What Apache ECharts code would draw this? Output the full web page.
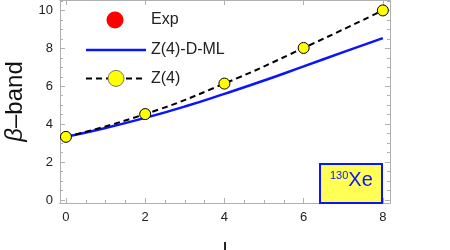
<!DOCTYPE html>
<html><head><meta charset="utf-8">
<script src="https://cdn.jsdelivr.net/npm/echarts@6/dist/echarts.min.js"></script>
<style>html,body{margin:0;padding:0;background:#fff}#c{width:450px;height:250px}</style>
</head><body><div id="c"></div>
<script>
var xValues = [0, 2, 4, 6, 8];
var z4Values = [3.33, 4.53, 6.14, 8.02, 10.0];
var mlX = [0, 1, 2, 3, 4, 5, 6, 7, 8];
var mlValues = [3.33, 3.8, 4.33, 4.93, 5.6, 6.3, 7.05, 7.8, 8.54];
var expValues = [];
var xTicks = [0, 2, 4, 6, 8];
var yTicks = [0, 2, 4, 6, 8, 10];
var xMinor = [0.5, 1, 1.5, 2.5, 3, 3.5, 4.5, 5, 5.5, 6.5, 7, 7.5];
var yMinor = [0.5, 1, 1.5, 2.5, 3, 3.5, 4.5, 5, 5.5, 6.5, 7, 7.5, 8.5, 9, 9.5, 10.5];

var XMIN = -0.15, XMAX = 8.18, YMIN = -0.16, YMAX = 10.55;
var frame = '#b0b0b0';
var font = 'Liberation Sans, Arial, sans-serif';
var blue = '#0a14ff';

function axisBase(extra) {
  var a = {
    type: 'value',
    axisLine: { show: true, onZero: false, lineStyle: { color: frame, width: 1 } },
    splitLine: { show: false },
    axisTick: { show: true, inside: true, length: 5, lineStyle: { color: frame } },
    axisLabel: { show: false }
  };
  for (var k in extra) a[k] = extra[k];
  return a;
}

var chart = echarts.init(document.getElementById('c'));
chart.setOption({
  animation: false,
  grid: { left: 60, right: 60, top: 0, bottom: 47, containLabel: false, outerBoundsMode: 'none' },
  legend: {
    orient: 'vertical', left: 85, top: 10, padding: 0, itemWidth: 60, itemHeight: 20, itemGap: 10,
    textStyle: { fontFamily: font, fontSize: 16, color: '#222' },
    data: [
      { name: 'Exp', icon: 'path://M0,0 L0.01,0 L0,0.01 Z M60,20 L59.99,20 L60,19.99 Z M29,1.5 A8.5,8.5 0 1,1 29,18.5 A8.5,8.5 0 1,1 29,1.5 Z' },
      { name: 'Z(4)-D-ML', icon: 'path://M0,0 L0.01,0 L0,0.01 Z M0,8.7 L60,8.7 L60,11.3 L0,11.3 Z M0,20 L0.01,20 L0,19.99 Z' },
      { name: 'Z(4)', itemStyle: { borderWidth: 0.8, borderColor: '#555' } }
    ]
  },
  xAxis: [
    axisBase({ min: XMIN, max: XMAX, position: 'bottom',
      axisTick: { show: true, inside: true, length: 5, lineStyle: { color: frame }, customValues: xTicks },
      axisLabel: { show: true, customValues: xTicks, fontFamily: font, fontSize: 13, color: '#222', margin: 8 },
      name: 'I', nameLocation: 'middle', nameGap: 37,
      nameTextStyle: { fontFamily: font, fontSize: 20, color: '#111' } }),
    axisBase({ min: XMIN, max: XMAX, position: 'bottom',
      axisTick: { show: true, inside: true, length: 3, lineStyle: { color: frame }, customValues: xMinor } }),
    axisBase({ min: XMIN, max: XMAX, position: 'top',
      axisTick: { show: true, inside: true, length: 5, lineStyle: { color: frame }, customValues: xTicks } })
  ],
  yAxis: [
    axisBase({ min: YMIN, max: YMAX, position: 'left',
      axisTick: { show: true, inside: true, length: 5, lineStyle: { color: frame }, customValues: yTicks },
      axisLabel: { show: true, customValues: yTicks, fontFamily: font, fontSize: 13, color: '#222', margin: 7 },
      name: '{i|β}–band', nameLocation: 'middle', nameGap: 22, nameRotate: 90,
      nameTextStyle: { fontFamily: font, fontSize: 24, color: '#111',
        rich: { i: { fontStyle: 'italic', fontFamily: font, fontSize: 24, color: '#111' } } } }),
    axisBase({ min: YMIN, max: YMAX, position: 'left',
      axisTick: { show: true, inside: true, length: 3, lineStyle: { color: frame }, customValues: yMinor } }),
    axisBase({ min: YMIN, max: YMAX, position: 'right',
      axisTick: { show: true, inside: true, length: 5, lineStyle: { color: frame }, customValues: yTicks } }),
    axisBase({ min: YMIN, max: YMAX, position: 'right',
      axisTick: { show: true, inside: true, length: 3, lineStyle: { color: frame }, customValues: yMinor } })
  ],
  series: [
    { name: 'Exp', type: 'scatter', symbol: 'circle', symbolSize: 14,
      itemStyle: { color: '#ff0000', opacity: 1 }, data: expValues },
    { name: 'Z(4)-D-ML', type: 'line', smooth: true, showSymbol: false, symbol: 'none',
      lineStyle: { color: blue, width: 2.5 }, itemStyle: { color: blue },
      data: mlX.map(function (x, i) { return [x, mlValues[i]]; }) },
    { name: 'Z(4)', type: 'line', smooth: true, symbol: 'circle', symbolSize: 11,
      lineStyle: { color: '#000', width: 2, type: [6, 4] },
      itemStyle: { color: '#ffff00', borderColor: '#000', borderWidth: 1 },
      data: xValues.map(function (x, i) { return [x, z4Values[i]]; }), z: 3 }
  ],
  graphic: [
    { type: 'rect', left: 319, top: 163, shape: { width: 62, height: 39 },
      style: { fill: '#ffff55', stroke: blue, lineWidth: 2 }, z: 10 },
    { type: 'text', left: 330, top: 170, z: 11,
      style: { text: '{s|130}{b|Xe}', rich: {
        s: { fontFamily: font, fontSize: 11, fill: blue, verticalAlign: 'top', padding: [0, 0, 8, 0] },
        b: { fontFamily: font, fontSize: 20, fill: blue } } } }
  ]
});
</script></body></html>
